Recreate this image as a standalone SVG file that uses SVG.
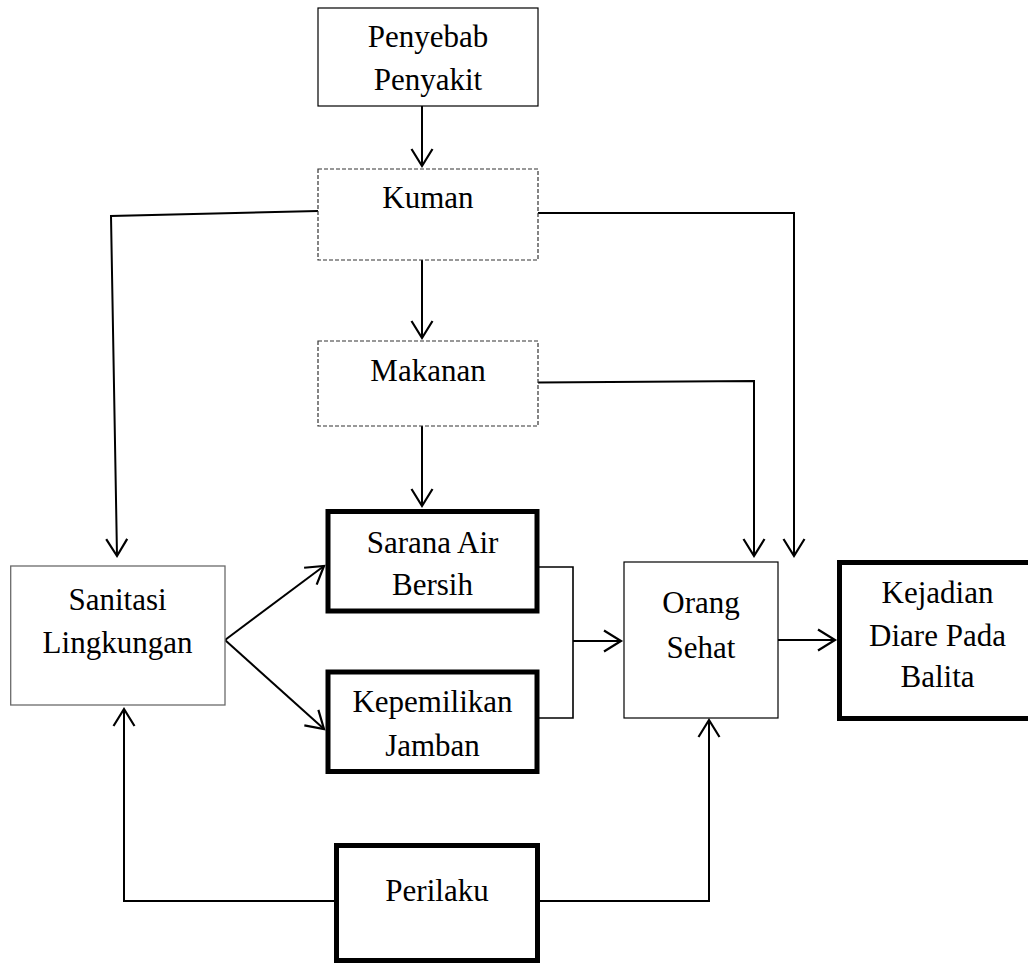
<svg xmlns="http://www.w3.org/2000/svg" width="1028" height="964" viewBox="0 0 1028 964">
<style>
text{font-family:"Liberation Serif","Times New Roman",serif;font-size:31px;fill:#000;text-anchor:middle}
.thin{fill:#fff;stroke:#000;stroke-width:1.2}
.gray{fill:#fff;stroke:#6a6a6a;stroke-width:1.3}
.dash{fill:#fff;stroke:#333;stroke-width:1.2;stroke-dasharray:4 2}
.thick{fill:#fff;stroke:#000;stroke-width:5}
.c{fill:none;stroke:#000;stroke-width:2}
.c1{fill:none;stroke:#000;stroke-width:1.6}
</style>
<defs>
<marker id="ah" markerUnits="userSpaceOnUse" markerWidth="40" markerHeight="40" viewBox="-20 -20 40 40" refX="0" refY="0" orient="auto" overflow="visible">
<path d="M-17,-10.5 L0,0 L-17,10.5" fill="none" stroke="#000" stroke-width="2.2"/>
</marker>
</defs>
<rect width="1028" height="964" fill="#fff"/>
<g id="connectors">
<line class="c" x1="422" y1="106" x2="422" y2="166" marker-end="url(#ah)"/>
<line class="c" x1="422" y1="260" x2="422" y2="338" marker-end="url(#ah)"/>
<line class="c" x1="422" y1="426" x2="422" y2="506" marker-end="url(#ah)"/>
<polyline class="c" points="318,211 111,216 117,556" marker-end="url(#ah)"/>
<polyline class="c" points="538,213 794,213 794,556" marker-end="url(#ah)"/>
<polyline class="c" points="538,382.5 754,381 754,556" marker-end="url(#ah)"/>
<line class="c" x1="225" y1="640" x2="324" y2="566" marker-end="url(#ah)"/>
<line class="c" x1="225" y1="640" x2="324" y2="729" marker-end="url(#ah)"/>
<polyline class="c1" points="539,567 573,567 573,718 539,718"/>
<line class="c" x1="573" y1="641" x2="621" y2="641" marker-end="url(#ah)"/>
<line class="c" x1="778" y1="640" x2="835" y2="640" marker-end="url(#ah)"/>
<polyline class="c" points="334,901 124,901 124,709" marker-end="url(#ah)"/>
<polyline class="c" points="540,901 709,901 709,720" marker-end="url(#ah)"/>
</g>
<g id="penyebab">
<rect class="thin" x="318" y="8" width="220" height="98"/>
<text x="428" y="47">Penyebab</text>
<text x="428" y="90">Penyakit</text>
</g>
<g id="kuman">
<rect class="dash" x="318" y="169" width="220" height="91"/>
<text x="428" y="208">Kuman</text>
</g>
<g id="makanan">
<rect class="dash" x="318" y="341" width="220" height="85"/>
<text x="428" y="381">Makanan</text>
</g>
<g id="sanitasi">
<rect class="gray" x="10.7" y="566" width="214.3" height="139"/>
<text x="117.5" y="610">Sanitasi</text>
<text x="117.5" y="653">Lingkungan</text>
</g>
<g id="sarana">
<rect class="thick" x="328" y="511.5" width="209" height="99.5"/>
<text x="432.5" y="553">Sarana Air</text>
<text x="432.5" y="595">Bersih</text>
</g>
<g id="kepemilikan">
<rect class="thick" x="328" y="672" width="209" height="99.5"/>
<text x="432.5" y="712">Kepemilikan</text>
<text x="432.5" y="756">Jamban</text>
</g>
<g id="orang">
<rect class="thin" x="624" y="562" width="154" height="156"/>
<text x="701" y="613">Orang</text>
<text x="701" y="658">Sehat</text>
</g>
<g id="kejadian">
<rect class="thick" x="839.5" y="562.5" width="196" height="156"/>
<text x="937.5" y="603">Kejadian</text>
<text x="937.5" y="646">Diare Pada</text>
<text x="937.5" y="687">Balita</text>
</g>
<g id="perilaku">
<rect class="thick" x="336.5" y="845.5" width="201" height="115"/>
<text x="437" y="901">Perilaku</text>
</g>
</svg>
